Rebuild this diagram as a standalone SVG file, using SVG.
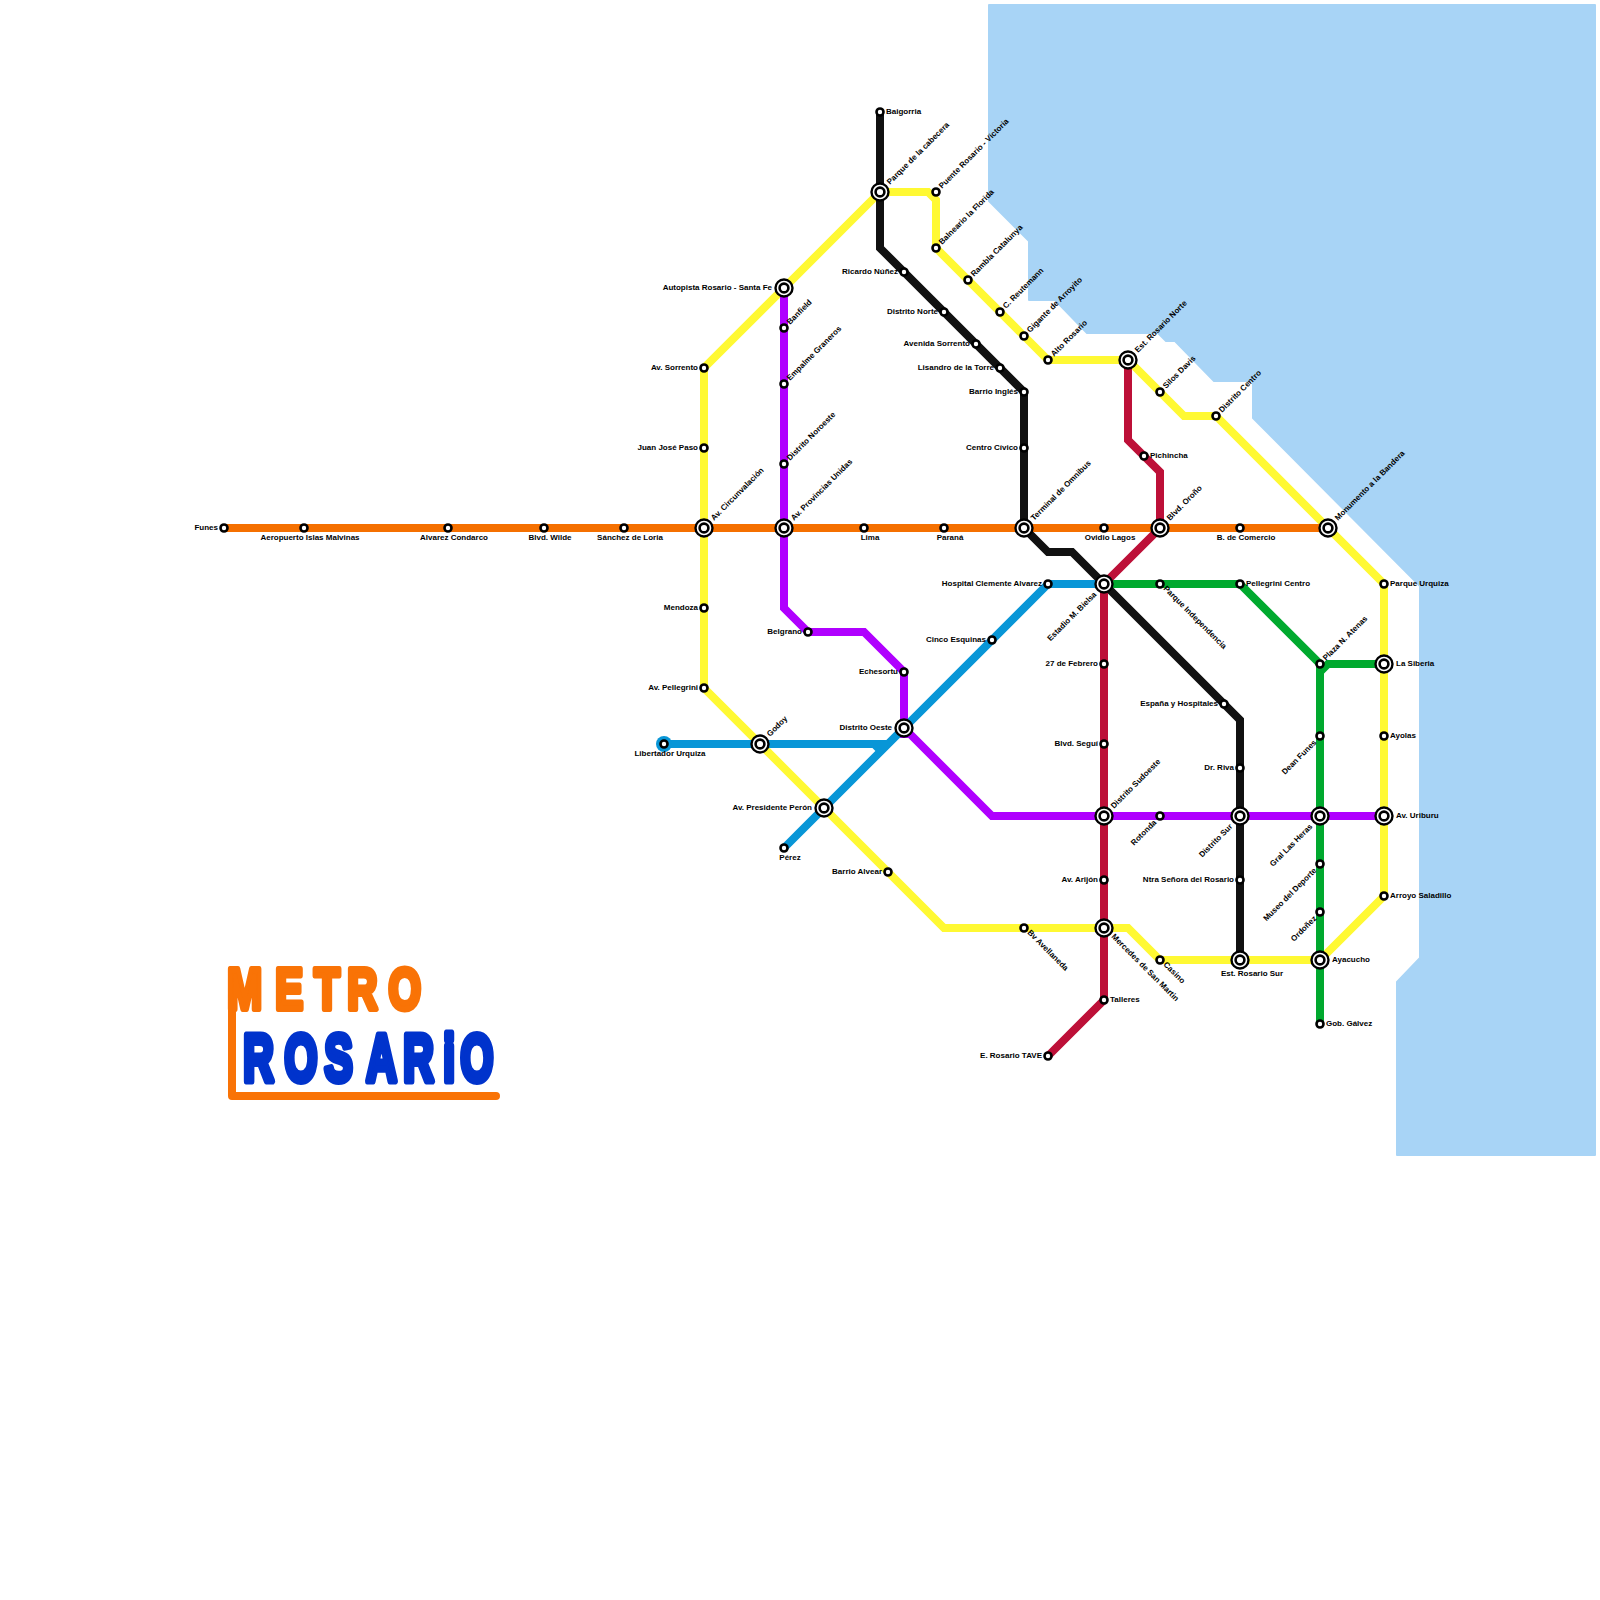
<svg xmlns="http://www.w3.org/2000/svg" width="1600" height="1600" viewBox="0 0 1600 1600">
<style>
.bg{fill:#fff}
.water{fill:#a8d4f6;stroke:#a8d4f6;stroke-width:2;stroke-linejoin:round}
#connectors path{fill:none;stroke-width:8;stroke-linejoin:miter}
.yellow{stroke:#fff933}.black{stroke:#111}.purple{stroke:#b000ff}.orange{stroke:#f57000}.green{stroke:#00a92e}.red{stroke:#bd1038}.blue{stroke:#0896d7}
.s{fill:#fff;stroke:#000;stroke-width:2.6}
.o{fill:#fff;stroke:#000;stroke-width:2.4}
.i{fill:#fff;stroke:#000;stroke-width:2.6}
text{font-family:"Liberation Sans",Arial,sans-serif;font-weight:bold;font-size:8px;fill:#000}
.e{text-anchor:end}.m{text-anchor:middle}
.logo{font-weight:bold;stroke-linejoin:round}
.lo{fill:#f97306;stroke:#f97306}.lb{fill:#0033cc;stroke:#0033cc}
</style>
<rect class="bg" width="1600" height="1600"/>
<path id="water" class="water" d="M989 5H1595V1155H1397V982L1420 958V586L1253 418V381H1214L1175 341H1166L1158 333H1087L1055 300H1029V241L989 201Z"/>
<g id="connectors">
<path class="yellow" d="M880 192H928L936 200V248L1024 336L1048 360H1128L1184 416H1216L1384 584V816V896L1320 960H1160L1128 928H944L704 688V368L880 192"/>
<path class="black" d="M880 112V248L1024 392V528L1048 552H1072L1240 720V960"/>
<path class="purple" d="M784 288V608L808 632H864L904 672V738M904 728L992 816H1384"/>
<path class="orange" d="M224 528H1328"/>
<path class="green" d="M1104 584H1240L1320 664V1024M1384 664H1328L1320 672"/>
<path class="red" d="M1128 360V440L1160 472V528L1104 584V1000L1048 1056"/>
<path class="blue" d="M664 744H888M874 744L882 752M784 848L1048 584H1104"/>
</g>
<g id="stations">
<g id="n-funes"><circle class="s" cx="224" cy="528" r="3.5"/><text class="e" x="218" y="530">Funes</text></g>
<g id="n-aeropuerto"><circle class="s" cx="304" cy="528" r="3.5"/><text class="m" x="310" y="540">Aeropuerto Islas Malvinas</text></g>
<g id="n-alvarez"><circle class="s" cx="448" cy="528" r="3.5"/><text class="m" x="454" y="540">Alvarez Condarco</text></g>
<g id="n-wilde"><circle class="s" cx="544" cy="528" r="3.5"/><text class="m" x="550" y="540">Blvd. Wilde</text></g>
<g id="n-sanchez"><circle class="s" cx="624" cy="528" r="3.5"/><text class="m" x="630" y="540">Sánchez de Loria</text></g>
<g id="n-circunvalacion"><circle class="o" cx="704" cy="528" r="8.5"/><circle class="i" cx="704" cy="528" r="4.4"/><text x="714" y="521" transform="rotate(-45 714 521)">Av. Circunvalación</text></g>
<g id="n-provincias"><circle class="o" cx="784" cy="528" r="8.5"/><circle class="i" cx="784" cy="528" r="4.4"/><text x="794" y="521" transform="rotate(-45 794 521)">Av. Provincias Unidas</text></g>
<g id="n-lima"><circle class="s" cx="864" cy="528" r="3.5"/><text class="m" x="870" y="540">Lima</text></g>
<g id="n-parana"><circle class="s" cx="944" cy="528" r="3.5"/><text class="m" x="950" y="540">Paraná</text></g>
<g id="n-terminal"><circle class="o" cx="1024" cy="528" r="8.5"/><circle class="i" cx="1024" cy="528" r="4.4"/><text x="1034" y="521" transform="rotate(-45 1034 521)">Terminal de Omnibus</text></g>
<g id="n-ovidio"><circle class="s" cx="1104" cy="528" r="3.5"/><text class="m" x="1110" y="540">Ovidio Lagos</text></g>
<g id="n-orono"><circle class="o" cx="1160" cy="528" r="8.5"/><circle class="i" cx="1160" cy="528" r="4.4"/><text x="1170" y="521" transform="rotate(-45 1170 521)">Blvd. Oroño</text></g>
<g id="n-comercio"><circle class="s" cx="1240" cy="528" r="3.5"/><text class="m" x="1246" y="540">B. de Comercio</text></g>
<g id="n-monumento"><circle class="o" cx="1328" cy="528" r="8.5"/><circle class="i" cx="1328" cy="528" r="4.4"/><text x="1338" y="521" transform="rotate(-45 1338 521)">Monumento a la Bandera</text></g>
<g id="n-baigorria"><circle class="s" cx="880" cy="112" r="3.5"/><text x="886" y="114">Baigorria</text></g>
<g id="n-cabecera"><circle class="o" cx="880" cy="192" r="8.5"/><circle class="i" cx="880" cy="192" r="4.4"/><text x="890" y="185" transform="rotate(-45 890 185)">Parque de la cabecera</text></g>
<g id="n-puente"><circle class="s" cx="936" cy="192" r="3.5"/><text x="942" y="189" transform="rotate(-45 942 189)">Puente Rosario - Victoria</text></g>
<g id="n-balneario"><circle class="s" cx="936" cy="248" r="3.5"/><text x="942" y="245" transform="rotate(-45 942 245)">Balneario la Florida</text></g>
<g id="n-rambla"><circle class="s" cx="968" cy="280" r="3.5"/><text x="974" y="277" transform="rotate(-45 974 277)">Rambla Catalunya</text></g>
<g id="n-reutemann"><circle class="s" cx="1000" cy="312" r="3.5"/><text x="1006" y="309" transform="rotate(-45 1006 309)">C. Reutemann</text></g>
<g id="n-gigante"><circle class="s" cx="1024" cy="336" r="3.5"/><text x="1030" y="333" transform="rotate(-45 1030 333)">Gigante de Arroyito</text></g>
<g id="n-alto"><circle class="s" cx="1048" cy="360" r="3.5"/><text x="1054" y="357" transform="rotate(-45 1054 357)">Alto Rosario</text></g>
<g id="n-norte"><circle class="o" cx="1128" cy="360" r="8.5"/><circle class="i" cx="1128" cy="360" r="4.4"/><text x="1138" y="353" transform="rotate(-45 1138 353)">Est. Rosario Norte</text></g>
<g id="n-silos"><circle class="s" cx="1160" cy="392" r="3.5"/><text x="1166" y="389" transform="rotate(-45 1166 389)">Silos Davis</text></g>
<g id="n-centro"><circle class="s" cx="1216" cy="416" r="3.5"/><text x="1222" y="413" transform="rotate(-45 1222 413)">Distrito Centro</text></g>
<g id="n-urquiza"><circle class="s" cx="1384" cy="584" r="3.5"/><text x="1390" y="586">Parque Urquiza</text></g>
<g id="n-siberia"><circle class="o" cx="1384" cy="664" r="8.5"/><circle class="i" cx="1384" cy="664" r="4.4"/><text x="1396" y="666">La Siberia</text></g>
<g id="n-ayolas"><circle class="s" cx="1384" cy="736" r="3.5"/><text x="1390" y="738">Ayolas</text></g>
<g id="n-uriburu"><circle class="o" cx="1384" cy="816" r="8.5"/><circle class="i" cx="1384" cy="816" r="4.4"/><text x="1396" y="818">Av. Uriburu</text></g>
<g id="n-saladillo"><circle class="s" cx="1384" cy="896" r="3.5"/><text x="1390" y="898">Arroyo Saladillo</text></g>
<g id="n-ayacucho"><circle class="o" cx="1320" cy="960" r="8.5"/><circle class="i" cx="1320" cy="960" r="4.4"/><text x="1332" y="962">Ayacucho</text></g>
<g id="n-sur"><circle class="o" cx="1240" cy="960" r="8.5"/><circle class="i" cx="1240" cy="960" r="4.4"/><text class="m" x="1252" y="976">Est. Rosario Sur</text></g>
<g id="n-casino"><circle class="s" cx="1160" cy="960" r="3.5"/><text x="1163" y="965" transform="rotate(45 1163 965)">Casino</text></g>
<g id="n-mercedes"><circle class="o" cx="1104" cy="928" r="8.5"/><circle class="i" cx="1104" cy="928" r="4.4"/><text x="1111" y="937" transform="rotate(45 1111 937)">Mercedes de San Martin</text></g>
<g id="n-avellaneda"><circle class="s" cx="1024" cy="928" r="3.5"/><text x="1027" y="933" transform="rotate(45 1027 933)">Bv Avellaneda</text></g>
<g id="n-alvear"><circle class="s" cx="888" cy="872" r="3.5"/><text class="e" x="882" y="874">Barrio Alvear</text></g>
<g id="n-peron"><circle class="o" cx="824" cy="808" r="8.5"/><circle class="i" cx="824" cy="808" r="4.4"/><text class="e" x="812" y="810">Av. Presidente Perón</text></g>
<g id="n-godoy"><circle class="o" cx="760" cy="744" r="8.5"/><circle class="i" cx="760" cy="744" r="4.4"/><text x="770" y="737" transform="rotate(-45 770 737)">Godoy</text></g>
<g id="n-pellegrini"><circle class="s" cx="704" cy="688" r="3.5"/><text class="e" x="698" y="690">Av. Pellegrini</text></g>
<g id="n-mendoza"><circle class="s" cx="704" cy="608" r="3.5"/><text class="e" x="698" y="610">Mendoza</text></g>
<g id="n-paso"><circle class="s" cx="704" cy="448" r="3.5"/><text class="e" x="698" y="450">Juan José Paso</text></g>
<g id="n-avsorrento"><circle class="s" cx="704" cy="368" r="3.5"/><text class="e" x="698" y="370">Av. Sorrento</text></g>
<g id="n-autopista"><circle class="o" cx="784" cy="288" r="8.5"/><circle class="i" cx="784" cy="288" r="4.4"/><text class="e" x="772" y="290">Autopista Rosario - Santa Fe</text></g>
<g id="n-ricardo"><circle class="s" cx="904" cy="272" r="3.5"/><text class="e" x="898" y="274">Ricardo Núñez</text></g>
<g id="n-dnorte"><circle class="s" cx="944" cy="312" r="3.5"/><text class="e" x="938" y="314">Distrito Norte</text></g>
<g id="n-sorrento"><circle class="s" cx="976" cy="344" r="3.5"/><text class="e" x="970" y="346">Avenida Sorrento</text></g>
<g id="n-lisandro"><circle class="s" cx="1000" cy="368" r="3.5"/><text class="e" x="994" y="370">Lisandro de la Torre</text></g>
<g id="n-ingles"><circle class="s" cx="1024" cy="392" r="3.5"/><text class="e" x="1018" y="394">Barrio Inglés</text></g>
<g id="n-civico"><circle class="s" cx="1024" cy="448" r="3.5"/><text class="e" x="1018" y="450">Centro Cívico</text></g>
<g id="n-banfield"><circle class="s" cx="784" cy="328" r="3.5"/><text x="790" y="325" transform="rotate(-45 790 325)">Banfield</text></g>
<g id="n-empalme"><circle class="s" cx="784" cy="384" r="3.5"/><text x="790" y="381" transform="rotate(-45 790 381)">Empalme Graneros</text></g>
<g id="n-noroeste"><circle class="s" cx="784" cy="464" r="3.5"/><text x="790" y="461" transform="rotate(-45 790 461)">Distrito Noroeste</text></g>
<g id="n-belgrano"><circle class="s" cx="808" cy="632" r="3.5"/><text class="e" x="802" y="634">Belgrano</text></g>
<g id="n-echesortu"><circle class="s" cx="904" cy="672" r="3.5"/><text class="e" x="898" y="674">Echesortu</text></g>
<g id="n-oeste"><circle class="o" cx="904" cy="728" r="8.5"/><circle class="i" cx="904" cy="728" r="4.4"/><text class="e" x="892" y="730">Distrito Oeste</text></g>
<g id="n-libertador"><circle cx="664" cy="744" r="8" fill="#0896d7"/><circle class="s" cx="664" cy="744" r="3.5"/><text class="m" x="670" y="756">Libertador Urquiza</text></g>
<g id="n-perez"><circle class="s" cx="784" cy="848" r="3.5"/><text class="m" x="790" y="860">Pérez</text></g>
<g id="n-cinco"><circle class="s" cx="992" cy="640" r="3.5"/><text class="e" x="986" y="642">Cinco Esquinas</text></g>
<g id="n-hospital"><circle class="s" cx="1048" cy="584" r="3.5"/><text class="e" x="1042" y="586">Hospital Clemente Alvarez</text></g>
<g id="n-bielsa"><circle class="o" cx="1104" cy="584" r="8.5"/><circle class="i" cx="1104" cy="584" r="4.4"/><text class="e" x="1097" y="595" transform="rotate(-45 1097 595)">Estadio M. Bielsa</text></g>
<g id="n-independencia"><circle class="s" cx="1160" cy="584" r="3.5"/><text x="1163" y="589" transform="rotate(45 1163 589)">Parque Independencia</text></g>
<g id="n-pcentro"><circle class="s" cx="1240" cy="584" r="3.5"/><text x="1246" y="586">Pellegrini Centro</text></g>
<g id="n-pichincha"><circle class="s" cx="1144" cy="456" r="3.5"/><text x="1150" y="458">Pichincha</text></g>
<g id="n-febrero"><circle class="s" cx="1104" cy="664" r="3.5"/><text class="e" x="1098" y="666">27 de Febrero</text></g>
<g id="n-segui"><circle class="s" cx="1104" cy="744" r="3.5"/><text class="e" x="1098" y="746">Blvd. Seguí</text></g>
<g id="n-sudoeste"><circle class="o" cx="1104" cy="816" r="8.5"/><circle class="i" cx="1104" cy="816" r="4.4"/><text x="1114" y="809" transform="rotate(-45 1114 809)">Distrito Sudoeste</text></g>
<g id="n-arijon"><circle class="s" cx="1104" cy="880" r="3.5"/><text class="e" x="1098" y="882">Av. Arijón</text></g>
<g id="n-talleres"><circle class="s" cx="1104" cy="1000" r="3.5"/><text x="1110" y="1002">Talleres</text></g>
<g id="n-tave"><circle class="s" cx="1048" cy="1056" r="3.5"/><text class="e" x="1042" y="1058">E. Rosario TAVE</text></g>
<g id="n-rotonda"><circle class="s" cx="1160" cy="816" r="3.5"/><text class="e" x="1157" y="823" transform="rotate(-45 1157 823)">Rotonda</text></g>
<g id="n-espana"><circle class="s" cx="1224" cy="704" r="3.5"/><text class="e" x="1218" y="706">España y Hospitales</text></g>
<g id="n-riva"><circle class="s" cx="1240" cy="768" r="3.5"/><text class="e" x="1234" y="770">Dr. Riva</text></g>
<g id="n-dsur"><circle class="o" cx="1240" cy="816" r="8.5"/><circle class="i" cx="1240" cy="816" r="4.4"/><text class="e" x="1233" y="827" transform="rotate(-45 1233 827)">Distrito Sur</text></g>
<g id="n-ntra"><circle class="s" cx="1240" cy="880" r="3.5"/><text class="e" x="1234" y="882">Ntra Señora del Rosario</text></g>
<g id="n-atenas"><circle class="s" cx="1320" cy="664" r="3.5"/><text x="1326" y="661" transform="rotate(-45 1326 661)">Plaza N. Atenas</text></g>
<g id="n-dean"><circle class="s" cx="1320" cy="736" r="3.5"/><text class="e" x="1317" y="743" transform="rotate(-45 1317 743)">Dean Funes</text></g>
<g id="n-heras"><circle class="o" cx="1320" cy="816" r="8.5"/><circle class="i" cx="1320" cy="816" r="4.4"/><text class="e" x="1313" y="827" transform="rotate(-45 1313 827)">Gral Las Heras</text></g>
<g id="n-deporte"><circle class="s" cx="1320" cy="864" r="3.5"/><text class="e" x="1317" y="871" transform="rotate(-45 1317 871)">Museo del Deporte</text></g>
<g id="n-ordonez"><circle class="s" cx="1320" cy="912" r="3.5"/><text class="e" x="1317" y="919" transform="rotate(-45 1317 919)">Ordoñez</text></g>
<g id="n-galvez"><circle class="s" cx="1320" cy="1024" r="3.5"/><text x="1326" y="1026">Gob. Gálvez</text></g>
</g>
<g id="logo">
<path fill="none" stroke="#f97306" stroke-width="8" stroke-linejoin="round" stroke-linecap="round" d="M232 970V1096H496"/>
<text class="logo lo" transform="translate(0 1009) scale(.72 1)" style="font-size:58px;stroke-width:6" x="315.7 382.3 436.5 482.3 539.6">METRO</text>
<text class="logo lb" transform="translate(0 1081) scale(.64 1)" style="font-size:66px;stroke-width:7" x="380.2 444.7 507.2 572.3 630.2 692.7 719.7">ROSARiO</text>
</g>
</svg>
